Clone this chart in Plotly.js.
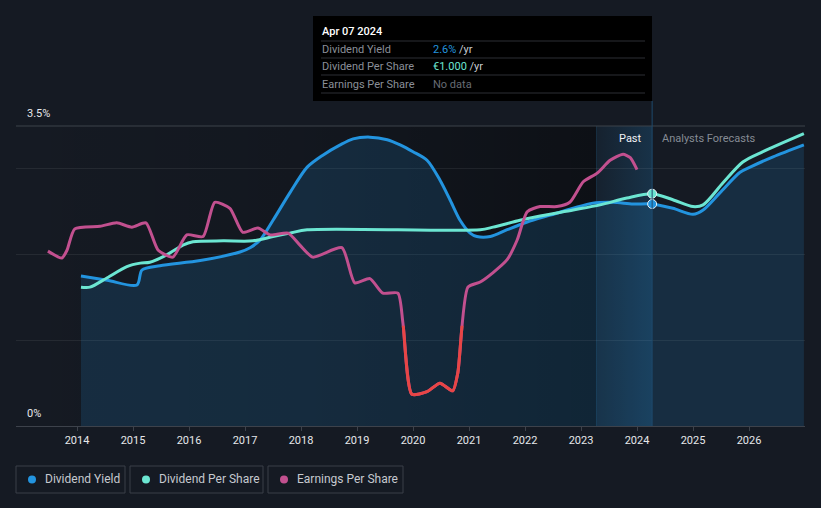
<!DOCTYPE html>
<html>
<head>
<meta charset="utf-8">
<script src="https://cdn.plot.ly/plotly-3.0.1.min.js"></script>
<style>
  html, body { margin: 0; padding: 0; background: #151a23; }
  #chart { width: 821px; height: 508px; }
</style>
</head>
<body>
<div id="chart"></div>
<script>
// ---- Data ----
const yieldX = [2014.07, 2014.54, 2015.07, 2015.16, 2015.48, 2016.20, 2016.91, 2017.09, 2017.27, 2017.50, 2017.80, 2018.11, 2018.39, 2018.70, 2018.93, 2019.23, 2019.54, 2019.77, 2020.00, 2020.25, 2020.48, 2020.66, 2020.84, 2021.02, 2021.14, 2021.38, 2021.68, 2022.04, 2022.45, 2022.86, 2023.21, 2023.57, 2023.93, 2024.27, 2024.64, 2025.00, 2025.18, 2025.48, 2025.84, 2026.02, 2026.43, 2026.98];
const yieldY = [1.75, 1.70, 1.645, 1.82, 1.87, 1.93, 2.03, 2.08, 2.17, 2.40, 2.72, 3.02, 3.16, 3.28, 3.35, 3.37, 3.34, 3.28, 3.20, 3.10, 2.87, 2.64, 2.40, 2.25, 2.21, 2.21, 2.29, 2.38, 2.46, 2.54, 2.60, 2.61, 2.59, 2.59, 2.54, 2.47, 2.52, 2.72, 2.96, 3.02, 3.14, 3.28];

const dpsX = [2014.07, 2014.23, 2014.54, 2014.89, 2015.13, 2015.30, 2015.61, 2015.89, 2016.07, 2016.61, 2017.14, 2017.50, 2017.80, 2018.11, 2021.20, 2021.43, 2021.91, 2022.27, 2022.86, 2023.34, 2023.82, 2024.27, 2024.64, 2025.00, 2025.18, 2025.54, 2025.89, 2026.25, 2026.98];
const dpsY = [1.62, 1.62, 1.73, 1.86, 1.90, 1.91, 2.00, 2.11, 2.15, 2.16, 2.16, 2.21, 2.25, 2.29, 2.29, 2.32, 2.40, 2.45, 2.52, 2.58, 2.66, 2.71, 2.64, 2.56, 2.58, 2.84, 3.08, 3.20, 3.41];

const epsX = [2013.48, 2013.73, 2013.82, 2013.96, 2014.41, 2014.71, 2014.98, 2015.23, 2015.45, 2015.71, 2015.96, 2016.25, 2016.46, 2016.73, 2016.96, 2017.23, 2017.45, 2017.77, 2017.98, 2018.21, 2018.73, 2018.96, 2019.23, 2019.46, 2019.73, 2019.82, 2019.98, 2020.25, 2020.48, 2020.71, 2020.80, 2020.98, 2021.20, 2021.43, 2021.68, 2021.86, 2022.04, 2022.27, 2022.57, 2022.80, 2023.04, 2023.29, 2023.52, 2023.75, 2023.88, 2024.00];
const epsY = [2.04, 1.96, 2.05, 2.30, 2.33, 2.37, 2.32, 2.37, 2.05, 1.97, 2.23, 2.21, 2.61, 2.54, 2.26, 2.31, 2.23, 2.25, 2.11, 1.97, 2.08, 1.67, 1.72, 1.55, 1.55, 1.20, 0.37, 0.40, 0.50, 0.41, 0.62, 1.62, 1.68, 1.79, 1.94, 2.17, 2.50, 2.56, 2.56, 2.61, 2.85, 2.95, 3.10, 3.17, 3.13, 2.99];

// EPS is drawn red below this level (negative earnings in the original)
const epsRedBelow = 1.17;

const tickYears = [2014, 2015, 2016, 2017, 2018, 2019, 2020, 2021, 2022, 2023, 2024, 2025, 2026];
const hoverX = 2024.27;            // Apr 07 2024
const hoverYield = 2.59;
const hoverDps = 2.71;
const pastStart = 2023.27;
const xRange = [2012.91, 2027.0];
const yRange = [0, 3.5];

const seriesNames = ['Dividend Yield', 'Dividend Per Share', 'Earnings Per Share'];
const tooltipDate = 'Apr 07 2024';
const tooltipValues = ['2.6%', '€1.000', 'No data'];

// ---- Colours ----
const C_BLUE = '#2394df', C_TEAL = '#6ce6d2', C_MAG = '#c2508f', C_RED = '#e84545';
const BG = '#151a23';

// ---- Layout helpers (pixel -> paper) ----
const L = 16, R = 805, T = 126, B = 426;
const px = x => (x - L) / (R - L);
const py = y => (B - y) / (B - T);

function svgUri(svg) { return 'data:image/svg+xml;base64,' + btoa(svg); }
const darkGrad = svgUri('<svg xmlns="http://www.w3.org/2000/svg" width="100" height="100" preserveAspectRatio="none"><defs><linearGradient id="g" x1="0" x2="1" y1="0" y2="0"><stop offset="0" stop-color="#000" stop-opacity="0"/><stop offset="0.5" stop-color="#000" stop-opacity="0.12"/><stop offset="1" stop-color="#000" stop-opacity="0.38"/></linearGradient></defs><rect width="100" height="100" fill="url(#g)"/></svg>');
const pastGrad = svgUri('<svg xmlns="http://www.w3.org/2000/svg" width="100" height="100" preserveAspectRatio="none"><defs><linearGradient id="g" x1="0" x2="1" y1="0" y2="0"><stop offset="0" stop-color="#2394df" stop-opacity="0.06"/><stop offset="1" stop-color="#2394df" stop-opacity="0.2"/></linearGradient></defs><rect width="100" height="100" fill="url(#g)"/><rect width="1" height="100" fill="#2394df" fill-opacity="0.25"/></svg>');

const epsLine = { shape: 'spline', smoothing: 0.6, width: 3 };
const traces = [
  { x: yieldX, y: yieldY, type: 'scatter', mode: 'lines', name: seriesNames[0],
    line: { color: C_BLUE, width: 3, shape: 'spline', smoothing: 0.8 },
    fill: 'tozeroy', fillcolor: 'rgba(35,148,223,0.16)', hoverinfo: 'skip' },
  { x: dpsX, y: dpsY, type: 'scatter', mode: 'lines', name: seriesNames[1],
    line: { color: C_TEAL, width: 3, shape: 'spline', smoothing: 0.8 }, hoverinfo: 'skip' },
  { x: epsX, y: epsY, type: 'scatter', mode: 'lines', name: seriesNames[2],
    line: Object.assign({ color: C_MAG }, epsLine), hoverinfo: 'skip' },
  // same EPS series on a clipped overlay axis covering only values below the threshold
  { x: epsX, y: epsY, type: 'scatter', mode: 'lines', name: 'EPS (negative)', yaxis: 'y2',
    line: Object.assign({ color: C_RED }, epsLine), hoverinfo: 'skip' },
  { x: [hoverX], y: [hoverDps], type: 'scatter', mode: 'markers',
    marker: { color: C_TEAL, size: 9, line: { color: '#e8f0f5', width: 1 } }, hoverinfo: 'skip' },
  { x: [hoverX], y: [hoverYield], type: 'scatter', mode: 'markers',
    marker: { color: C_BLUE, size: 9, line: { color: '#e8f0f5', width: 1 } }, hoverinfo: 'skip' }
];

const shapes = [
  { type: 'line', xref: 'paper', yref: 'paper', x0: 0, x1: 1, y0: 1, y1: 1, line: { color: '#3d424b', width: 1 } },
  { type: 'line', xref: 'x', yref: 'paper', x0: hoverX, x1: hoverX, y0: 0, y1: py(101), line: { color: '#1e4a6b', width: 1 } },
  { type: 'rect', xref: 'paper', yref: 'paper', x0: px(313), x1: px(652), y0: py(101), y1: py(16), fillcolor: '#000000', line: { width: 0 } }
];
[41, 58, 75, 93].forEach(yy => shapes.push({ type: 'line', xref: 'paper', yref: 'paper', x0: px(321), x1: px(645), y0: py(yy), y1: py(yy), line: { color: '#2c2f35', width: 1 } }));

const legendBoxes = [[16, 125], [130, 263], [268, 403]];
const legendColors = [C_BLUE, C_TEAL, C_MAG];
legendBoxes.forEach((b, i) => {
  shapes.push({ type: 'rect', xref: 'paper', yref: 'paper', x0: px(b[0]), x1: px(b[1]), y0: py(493), y1: py(466), line: { color: '#3a3f48', width: 1 }, fillcolor: 'rgba(0,0,0,0)' });
  shapes.push({ type: 'circle', xref: 'paper', yref: 'paper', x0: px(b[0] + 12), x1: px(b[0] + 20), y0: py(483.5), y1: py(475.5), fillcolor: legendColors[i], line: { width: 0 } });
});

const FONT = 'Roboto, "Open Sans", sans-serif';
const ann = (text, x, y, xanchor, color, size, extra) => Object.assign({ text, xref: 'paper', yref: 'paper', x: px(x), y: py(y), xanchor, yanchor: 'middle', showarrow: false, font: { color, size, family: FONT } }, extra || {});
const annotations = [
  ann('3.5%', 25, 114, 'left', '#e6e8eb', 11),
  ann('0%', 25, 413, 'left', '#e6e8eb', 11),
  ann('Past', 644, 138, 'right', '#f0f2f4', 11),
  ann('Analysts Forecasts', 660, 138, 'left', '#858b94', 11),
  ann(tooltipDate, 320, 31, 'left', '#ffffff', 11, { font: { color: '#ffffff', size: 11, family: FONT, weight: 500 } }),
  ann(seriesNames[0], 320, 49, 'left', '#8a8f98', 11),
  ann(seriesNames[1], 320, 66, 'left', '#8a8f98', 11),
  ann(seriesNames[2], 320, 84, 'left', '#8a8f98', 11),
  ann('<span style="color:' + C_BLUE + '">' + tooltipValues[0] + '</span> /yr', 431, 49, 'left', '#c8ccd2', 11),
  ann('<span style="color:' + C_TEAL + '">' + tooltipValues[1] + '</span> /yr', 431, 66, 'left', '#c8ccd2', 11),
  ann(tooltipValues[2], 431, 84, 'left', '#676c75', 11)
];
legendBoxes.forEach((b, i) => annotations.push(ann(seriesNames[i], b[0] + 27, 479.5, 'left', '#c5c9cf', 12)));

const images = [
  { source: darkGrad, xref: 'x', yref: 'y', x: xRange[0], y: yRange[1], sizex: pastStart - xRange[0], sizey: yRange[1] - yRange[0], sizing: 'stretch', xanchor: 'left', yanchor: 'top', layer: 'below' },
  { source: pastGrad, xref: 'x', yref: 'y', x: pastStart, y: yRange[1], sizex: hoverX - pastStart, sizey: yRange[1] - yRange[0], sizing: 'stretch', xanchor: 'left', yanchor: 'top', layer: 'below' }
];

const layout = {
  width: 821, height: 508,
  margin: { l: L, r: 821 - R, t: T, b: 508 - B, pad: 0 },
  paper_bgcolor: BG, plot_bgcolor: 'rgba(0,0,0,0)',
  showlegend: false,
  font: { family: FONT, color: '#e6e8eb', size: 11 },
  xaxis: {
    range: xRange, tickvals: tickYears, ticktext: tickYears.map(String),
    showgrid: false, zeroline: false, showline: true, linecolor: '#3d424b', linewidth: 1,
    ticks: 'outside', ticklen: 4, tickcolor: '#3d424b',
    tickfont: { color: '#e6e8eb', size: 11, family: FONT }, fixedrange: true
  },
  yaxis: {
    range: yRange, tickvals: [1, 2, 3], showticklabels: false,
    showgrid: true, gridcolor: 'rgba(255,255,255,0.07)', gridwidth: 1,
    zeroline: false, showline: false, fixedrange: true
  },
  yaxis2: {
    domain: [0, epsRedBelow / yRange[1]], range: [0, epsRedBelow], anchor: 'x',
    visible: false, showgrid: false, zeroline: false, fixedrange: true
  },
  shapes: shapes,
  annotations: annotations,
  images: images,
  hovermode: false
};

Plotly.newPlot('chart', traces, layout, { displayModeBar: false, staticPlot: true });
</script>
</body>
</html>
